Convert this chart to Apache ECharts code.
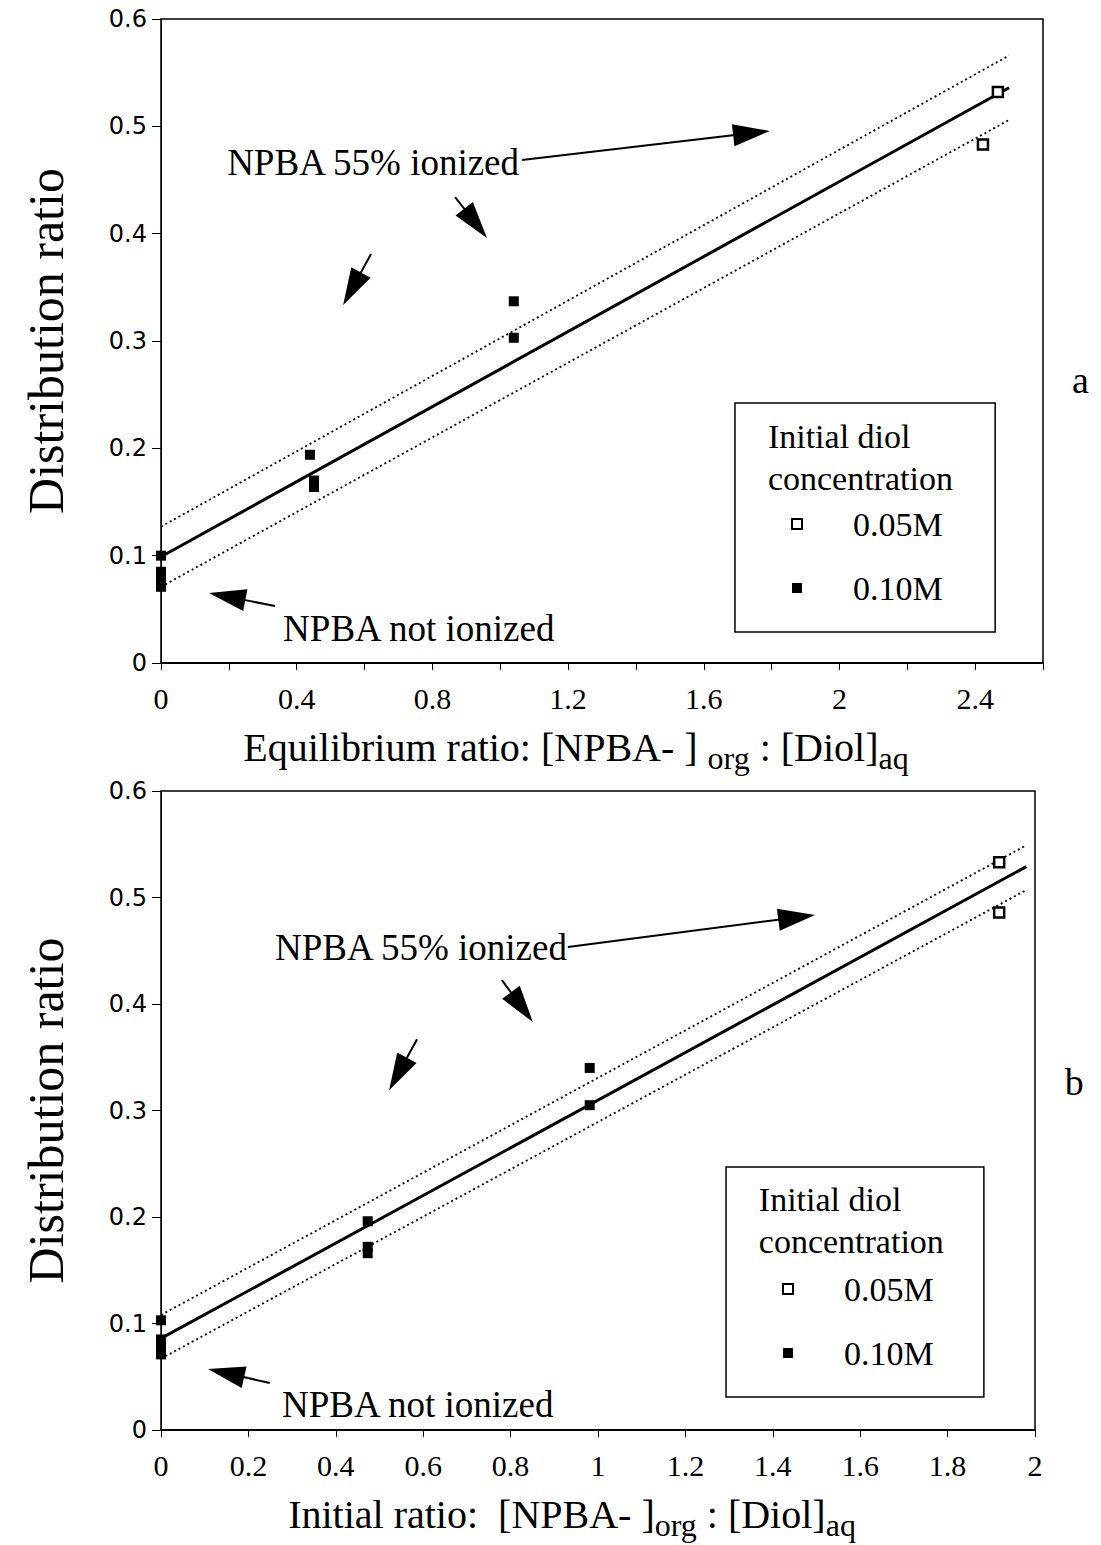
<!DOCTYPE html>
<html><head><meta charset="utf-8">
<script src="https://cdn.jsdelivr.net/npm/echarts@6/dist/echarts.min.js"></script>
<style>html,body{margin:0;padding:0;background:#fff}#c{width:1101px;height:1545px}</style>
</head><body><div id="c"></div>
<script>
// ---------- Panel a : equilibrium ratio ----------
const aX005 = [2.467, 2.423];
const aY005 = [0.532, 0.483];
const aX010 = [0, 0, 0, 0, 0.439, 0.451, 0.451, 1.04, 1.04];
const aY010 = [0.100, 0.085, 0.078, 0.071, 0.194, 0.170, 0.164, 0.337, 0.303];
const aLineX = [0, 2.5];
const aFitY = [0.099, 0.536];
const aUpperY = [0.127, 0.566];
const aLowerY = [0.071, 0.506];
const aXTicks = ['0', '0.4', '0.8', '1.2', '1.6', '2', '2.4'];

// ---------- Panel b : initial ratio ----------
const bX005 = [1.918, 1.918];
const bY005 = [0.533, 0.486];
const bX010 = [0, 0, 0, 0, 0.473, 0.473, 0.473, 0.981, 0.981];
const bY010 = [0.103, 0.085, 0.078, 0.071, 0.196, 0.172, 0.166, 0.340, 0.305];
const bLineX = [0, 1.98];
const bFitY = [0.086, 0.529];
const bUpperY = [0.108, 0.549];
const bLowerY = [0.067, 0.507];
const bXTicks = ['0', '0.2', '0.4', '0.6', '0.8', '1', '1.2', '1.4', '1.6', '1.8', '2'];

const yTicks = ['0', '0.1', '0.2', '0.3', '0.4', '0.5', '0.6'];
const seriesNames = ['0.05M', '0.10M'];

const SERIF = '"Liberation Serif","Times New Roman",serif';
const SANS = '"DejaVu Sans",Verdana,sans-serif';

const pairs = (xs, ys) => xs.map((x, i) => [x, ys[i]]);
const tickFmt = list => v => { const s = String(Math.round(v * 10) / 10); return list.indexOf(s) >= 0 ? s : ''; };

function makeX(gi, max, list, name) {
  return {
    type: 'value', gridIndex: gi, min: 0, max: max, interval: 0.2,
    axisLine: { show: true, onZero: false, lineStyle: { color: '#000', width: 2 } },
    axisTick: { show: true, inside: false, length: 7, lineStyle: { color: '#000', width: 1 } },
    splitLine: { show: false },
    axisLabel: { formatter: tickFmt(list), fontFamily: SERIF, fontSize: 30, color: '#000', margin: 20, showMaxLabel: true },
    name: name, nameLocation: 'middle', nameGap: 64,
    nameTextStyle: {
      fontFamily: SERIF, fontSize: 40, color: '#000', verticalAlign: 'top', padding: [0, 52, 0, 0],
      rich: {
        t: { fontFamily: SERIF, fontSize: 40, color: '#000', verticalAlign: 'top', lineHeight: 44 },
        s: { fontFamily: SERIF, fontSize: 32, color: '#000', verticalAlign: 'top', lineHeight: 44, padding: [15, 0, 0, 0] }
      }
    }
  };
}
function makeY(gi) {
  return {
    type: 'value', gridIndex: gi, min: 0, max: 0.6, interval: 0.1,
    axisLine: { show: true, onZero: false, lineStyle: { color: '#000', width: 1 } },
    axisTick: { show: true, inside: false, length: 9, lineStyle: { color: '#000', width: 1 } },
    splitLine: { show: false },
    axisLabel: { formatter: tickFmt(yTicks), fontFamily: SANS, fontSize: 24, color: '#000', margin: 14 },
    name: 'Distribution ratio', nameLocation: 'middle', nameRotate: 90, nameGap: 90,
    nameTextStyle: { fontFamily: SERIF, fontSize: 50, color: '#000' }
  };
}
function lineSeries(gi, xs, ys, type, width) {
  return {
    type: 'line', xAxisIndex: gi, yAxisIndex: gi, data: pairs(xs, ys), symbol: 'none',
    lineStyle: { color: '#000', width: width, type: type }, silent: true, z: 2
  };
}
function scatterSeries(gi, name, xs, ys, open) {
  return {
    type: 'scatter', name: name, xAxisIndex: gi, yAxisIndex: gi, data: pairs(xs, ys),
    symbol: 'rect', symbolSize: 10, z: 5,
    itemStyle: open ? { color: '#fff', borderColor: '#000', borderWidth: 2.5, opacity: 1 }
                    : { color: '#000', borderColor: '#000', borderWidth: 0, opacity: 1 }
  };
}
function legendAt(left, top) {
  return {
    orient: 'vertical', left: left, top: top, padding: 0, itemGap: 30,
    itemWidth: 10, itemHeight: 10, selectedMode: false, data: seriesNames,
    formatter: n => '{p|' + n + '}',
    textStyle: { fontFamily: SERIF, fontSize: 34, color: '#000',
      rich: { p: { fontFamily: SERIF, fontSize: 34, color: '#000', padding: [0, 0, 0, 46] } } }
  };
}

const chart = echarts.init(document.getElementById('c'), null, { renderer: 'svg', width: 1101, height: 1545 });

chart.setOption({
  backgroundColor: '#fff',
  animation: false,
  grid: [
    { left: 161, top: 19, width: 882, height: 644, show: true, borderColor: '#000', borderWidth: 1.5, backgroundColor: 'transparent' },
    { left: 161, top: 791, width: 874, height: 639, show: true, borderColor: '#000', borderWidth: 1.5, backgroundColor: 'transparent' }
  ],
  xAxis: [
    makeX(0, 2.6, aXTicks, '{t|Equilibrium ratio: [NPBA- ] }{s|org}{t| : [Diol]}{s|aq}'),
    makeX(1, 2, bXTicks, '{t|Initial ratio:  [NPBA- ]}{s|org}{t| : [Diol]}{s|aq}')
  ],
  yAxis: [makeY(0), makeY(1)],
  legend: [legendAt(791, 507), legendAt(782, 1272)],
  series: [
    lineSeries(0, aLineX, aFitY, 'solid', 3),
    lineSeries(0, aLineX, aUpperY, [2, 3], 1.8),
    lineSeries(0, aLineX, aLowerY, [2, 3], 1.8),
    scatterSeries(0, seriesNames[0], aX005, aY005, true),
    scatterSeries(0, seriesNames[1], aX010, aY010, false),
    lineSeries(1, bLineX, bFitY, 'solid', 3),
    lineSeries(1, bLineX, bUpperY, [2, 3], 1.8),
    lineSeries(1, bLineX, bLowerY, [2, 3], 1.8),
    scatterSeries(1, seriesNames[0], bX005, bY005, true),
    scatterSeries(1, seriesNames[1], bX010, bY010, false)
  ]
});

// ---------- annotations, placed in data coordinates ----------
const notes = [
  { g: 0, text: 'NPBA 55% ionized', at: [0.195, 0.466] },
  { g: 0, text: 'NPBA not ionized', at: [0.36, 0.0326] },
  { g: 1, text: 'NPBA 55% ionized', at: [0.261, 0.4526] },
  { g: 1, text: 'NPBA not ionized', at: [0.277, 0.0235] }
];
const arrows = [
  { g: 0, from: [1.064, 0.4687], to: [1.795, 0.4957] },
  { g: 0, from: [0.867, 0.434], to: [0.961, 0.396] },
  { g: 0, from: [0.619, 0.381], to: [0.537, 0.3336] },
  { g: 0, from: [0.336, 0.0531], to: [0.1415, 0.0652] },
  { g: 1, from: [0.931, 0.4535], to: [1.4966, 0.4836] },
  { g: 1, from: [0.780, 0.4225], to: [0.851, 0.383] },
  { g: 1, from: [0.586, 0.367], to: [0.522, 0.319] },
  { g: 1, from: [0.249, 0.0441], to: [0.1076, 0.0573] }
];
const legendBoxes = [
  { g: 0, corner1: [1.692, 0.2422], corner2: [2.459, 0.0289], head: [1.789, 0.1919] },
  { g: 1, corner1: [1.293, 0.2469], corner2: [1.883, 0.031], head: [1.368, 0.197] }
];
const panelTags = [
  { g: 0, text: 'a', at: [2.71, 0.264] },
  { g: 1, text: 'b', at: [2.09, 0.327] }
];

const P = (g, p) => chart.convertToPixel({ gridIndex: g }, p);
const gfx = [];
const FONT = '37px ' + SERIF;
notes.forEach(n => {
  const p = P(n.g, n.at);
  gfx.push({ type: 'text', x: p[0], y: p[1], silent: true,
    style: { text: n.text, font: FONT, fill: '#000', align: 'left', verticalAlign: 'middle', textAlign: 'left', textVerticalAlign: 'middle' } });
});
arrows.forEach(a => {
  const s = P(a.g, a.from), t = P(a.g, a.to);
  const dx = t[0] - s[0], dy = t[1] - s[1], L = Math.hypot(dx, dy);
  const ux = dx / L, uy = dy / L, hl = 37, hw = 11;
  const bx = t[0] - ux * hl, by = t[1] - uy * hl;
  gfx.push({ type: 'line', silent: true, shape: { x1: s[0], y1: s[1], x2: bx + ux * 4, y2: by + uy * 4 }, style: { stroke: '#000', lineWidth: 2 } });
  gfx.push({ type: 'polygon', silent: true, shape: { points: [[t[0], t[1]], [bx - uy * hw, by + ux * hw], [bx + uy * hw, by - ux * hw]] }, style: { fill: '#000' } });
});
legendBoxes.forEach(b => {
  const c1 = P(b.g, b.corner1), c2 = P(b.g, b.corner2), h = P(b.g, b.head);
  gfx.push({ type: 'rect', silent: true, z: 10, shape: { x: c1[0], y: c1[1], width: c2[0] - c1[0], height: c2[1] - c1[1] }, style: { fill: 'none', stroke: '#000', lineWidth: 1.5 } });
  gfx.push({ type: 'text', silent: true, z: 10, x: h[0], y: h[1],
    style: { text: 'Initial diol\nconcentration', font: '34px ' + SERIF, lineHeight: 42, fill: '#000', align: 'left', verticalAlign: 'middle', textAlign: 'left', textVerticalAlign: 'middle' } });
});
panelTags.forEach(t => {
  const p = P(t.g, t.at);
  gfx.push({ type: 'text', silent: true, x: p[0], y: p[1],
    style: { text: t.text, font: '38px ' + SERIF, fill: '#000', align: 'center', verticalAlign: 'middle', textAlign: 'center', textVerticalAlign: 'middle' } });
});
chart.setOption({ graphic: gfx });
</script>
</body></html>
